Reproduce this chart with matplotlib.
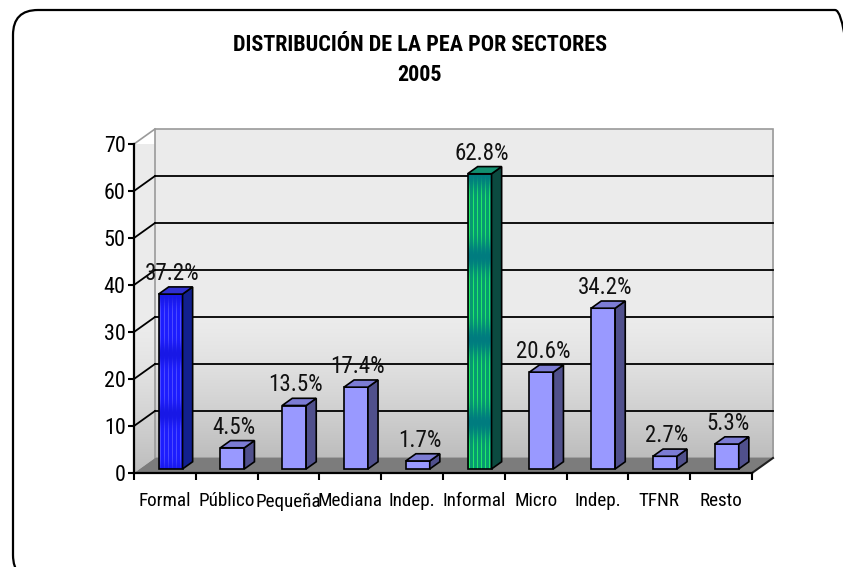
import numpy as np
import matplotlib
matplotlib.use("Agg")
import matplotlib.pyplot as plt
from matplotlib.patches import Polygon, FancyBboxPatch, Rectangle
from matplotlib import font_manager as fm

# ---------------- data ----------------
categories = ["Formal", "Público", "Pequeña", "Mediana", "Indep.",
              "Informal", "Micro", "Indep.", "TFNR", "Resto"]
values = [37.2, 4.5, 13.5, 17.4, 1.7, 62.8, 20.6, 34.2, 2.7, 5.3]
value_labels = ["37.2%", "4.5%", "13.5%", "17.4%", "1.7%",
                "62.8%", "20.6%", "34.2%", "2.7%", "5.3%"]
yticks = [0, 10, 20, 30, 40, 50, 60, 70]
title_lines = ["DISTRIBUCIÓN DE LA PEA POR SECTORES", "2005"]

# ---------------- fonts ----------------
names = {f.name for f in fm.fontManager.ttflist}
STRETCH = "normal"
FAM = None
for cand in ["Liberation Sans Narrow", "Arial Narrow", "Roboto Condensed",
             "Archivo Narrow", "PT Sans Narrow", "Pragati Narrow"]:
    if cand in names:
        FAM = [cand, "DejaVu Sans"]
        break
if FAM is None:
    FAM = ["DejaVu Sans"]
    STRETCH = "condensed"
plt.rcParams["font.family"] = FAM
plt.rcParams["font.stretch"] = STRETCH

W, H, DPI = 843, 567, 100
fig = plt.figure(figsize=(W / DPI, H / DPI), dpi=DPI)
renderer = fig.canvas.get_renderer()


def fit_size(s, target_px, weight="normal", base=20.0):
    t = fig.text(0, 0, s, fontsize=base, fontweight=weight, fontstretch=STRETCH)
    w = t.get_window_extent(renderer).width
    t.remove()
    return base * target_px / w


def blend(wfit, hfit, a=0.65):
    return wfit ** (1 - a) * hfit ** a


# compromise between width-matched and cap-height-matched sizes
FS_Y = blend(fit_size("70", 22), 15.9)
FS_VAL = blend(fit_size("37.2%", 54), 16.6)
FS_CAT = blend(fit_size("Formal", 50), 14.2)
FS_TITLE = fit_size(title_lines[0], 375, weight="bold")

# front plot area in pixels (from top-left)
PX0, PX1, PY0, PY1 = 134, 752, 473, 144
ax = fig.add_axes([PX0 / W, (H - PY0) / H, (PX1 - PX0) / W, (PY0 - PY1) / H])
n = len(categories)
ax.set_xlim(0, n)
ax.set_ylim(0, 70)
ax.patch.set_visible(False)

# depth offset (pixels) -> data units
DXP, DYP = 21, 15
fig.canvas.draw()
p0 = ax.transData.transform((0, 0))
inv = ax.transData.inverted()
DXD, DYD = inv.transform(p0 + np.array([DXP, DYP])) - inv.transform(p0)


def P(x, v, d):
    return (x + d * DXD, v + d * DYD)


# ---------------- walls ----------------
yy = np.linspace(70, 0, 200)
top_c, bot_c = 0.925, 0.74
t = np.clip((30 - yy) / 30, 0, 1)
wall_grad = (top_c + (bot_c - top_c) * t ** 1.3)[:, None]
wall_rgb = np.repeat(wall_grad[:, :, None], 3, axis=2)

# back wall
bx0, by0 = P(0, 0, 1)
bx1, by1 = P(n, 70, 1)
ax.imshow(wall_rgb, extent=[bx0, bx1, by0, by1], aspect="auto",
          zorder=0, clip_on=False, interpolation="bilinear")
ax.add_patch(Rectangle((bx0, by0), bx1 - bx0, by1 - by0, fill=False,
                       edgecolor="#9a9a9a", lw=1.2, zorder=1, clip_on=False))

# left wall
lw_poly = Polygon([P(0, 0, 0), P(0, 70, 0), P(0, 70, 1), P(0, 0, 1)],
                  closed=True, facecolor="none", edgecolor="none",
                  transform=ax.transData)
ax.add_patch(lw_poly)
lx0, _ = P(0, 0, 0)
lx1, ly1 = P(0, 70, 1)
im_l = ax.imshow(wall_rgb, extent=[lx0, lx1, 0, ly1], aspect="auto",
                 zorder=0, clip_on=True, interpolation="bilinear")
im_l.set_clip_path(lw_poly)
ax.plot(*zip(P(0, 70, 0), P(0, 70, 1)), color="#9a9a9a", lw=1.2,
        zorder=1, clip_on=False)

# floor
ax.add_patch(Polygon([P(0, 0, 0), P(n, 0, 0), P(n, 0, 1), P(0, 0, 1)],
                     closed=True, facecolor="#7c7c7c", edgecolor="none",
                     zorder=1, clip_on=False))
ax.plot(*zip(P(n, 0, 0), P(n, 0, 1)), color="#202020", lw=1.5,
        zorder=2, clip_on=False)

# gridlines
for v in yticks[1:-1]:
    ax.plot(*zip(P(0, v, 1), P(n, v, 1)), color="black", lw=1.3,
            zorder=1.5, clip_on=False)
    ax.plot(*zip(P(0, v, 0), P(0, v, 1)), color="black", lw=1.3,
            zorder=1.5, clip_on=False)

# ---------------- bars ----------------
F0, F1 = 0.27, 0.75
HALF = 0.194


def stripe_img(base, stripe, band, nx=24, ny=300, period_px=83.0, hpx=300,
               band_pow=3):
    xs = np.arange(nx)
    col = ((xs % 4) == 1).astype(float)  # vertical stripe mask
    ys = np.linspace(0, hpx, ny)
    band_w = (0.5 + 0.5 * np.cos(2 * np.pi * ys / period_px)) ** band_pow
    img = np.zeros((ny, nx, 3))
    for j in range(ny):
        row = base[None, :] * (1 - col[:, None]) + stripe[None, :] * col[:, None]
        img[j] = row * (1 - band_w[j]) + band[None, :] * band_w[j]
    return np.clip(img, 0, 1)


def hexrgb(h):
    return np.array(matplotlib.colors.to_rgb(h))


special = {
    0: dict(front=("#1e1eff", "#4c4cff", "#1818e6"), side="#12208e",
            top="#3030d0", period=60.0),
    5: dict(front=("#089a72", "#22ec66", "#007c80"), side="#0b4a40",
            top="#129070", period=83.0),
}

for i, v in enumerate(values):
    xc = i + 0.5
    x0, x1 = xc - HALF, xc + HALF
    if i in special:
        s = special[i]
        hpx = v * (PY0 - PY1) / 70
        img = stripe_img(hexrgb(s["front"][0]), hexrgb(s["front"][1]),
                         hexrgb(s["front"][2]), hpx=hpx,
                         period_px=s["period"])
        fx0, fy0 = P(x0, 0, F0)
        fx1, fy1 = P(x1, v, F0)
        ax.imshow(img, extent=[fx0, fx1, fy0, fy1], aspect="auto", zorder=3,
                  clip_on=False, interpolation="bilinear")
        face, side, top = "none", s["side"], s["top"]
    else:
        face, side, top = "#9999ff", "#50508c", "#7c7cd4"
    ax.add_patch(Polygon([P(x0, 0, F0), P(x1, 0, F0), P(x1, v, F0), P(x0, v, F0)],
                         closed=True, facecolor=face, edgecolor="black",
                         lw=1.2, zorder=3.1, clip_on=False))
    ax.add_patch(Polygon([P(x1, 0, F0), P(x1, v, F0), P(x1, v, F1), P(x1, 0, F1)],
                         closed=True, facecolor=side, edgecolor="black",
                         lw=1.2, zorder=3.1, clip_on=False))
    ax.add_patch(Polygon([P(x0, v, F0), P(x1, v, F0), P(x1, v, F1), P(x0, v, F1)],
                         closed=True, facecolor=top, edgecolor="black",
                         lw=1.2, zorder=3.1, clip_on=False))
    lx, ly = P(xc, v, 0.35)
    ax.annotate(value_labels[i], (lx, ly), xytext=(0, 14),
                textcoords="offset points", ha="center", va="center",
                fontsize=FS_VAL, color="#111111", zorder=5,
                annotation_clip=False)

ax.set_xlim(0, n)
ax.set_ylim(0, 70)

# ---------------- axes ----------------
for s in ["top", "right"]:
    ax.spines[s].set_visible(False)
for s in ["left", "bottom"]:
    ax.spines[s].set_linewidth(1.6)
    ax.spines[s].set_zorder(4)
ax.set_yticks(yticks)
ax.set_yticklabels([str(t) for t in yticks])
ax.tick_params(axis="y", direction="out", length=4, width=1.5,
               labelsize=FS_Y, pad=2)
ax.set_xticks(np.arange(n + 1))
ax.set_xticklabels([""] * (n + 1))
ax.set_xticks(np.arange(n) + 0.5, minor=True)
ax.set_xticklabels(categories, minor=True)
ax.tick_params(axis="x", which="major", direction="out", length=5, width=1.5)
ax.tick_params(axis="x", which="minor", length=0, labelsize=FS_CAT, pad=14)

# ---------------- title ----------------
fig.text(420 / W, 1 - 45 / H, title_lines[0], ha="center", va="center",
         fontsize=FS_TITLE, fontweight="bold")
fig.text(420 / W, 1 - 75 / H, title_lines[1], ha="center", va="center",
         fontsize=FS_TITLE, fontweight="bold")

# ---------------- frame ----------------
fig.patches.append(FancyBboxPatch((13, -13), 860 - 13, (H - 10) + 13,
                                  boxstyle="round,pad=0,rounding_size=25",
                                  transform=None, fill=False,
                                  edgecolor="black", lw=1.6, zorder=10))

fig.savefig("out.png", dpi=DPI)
